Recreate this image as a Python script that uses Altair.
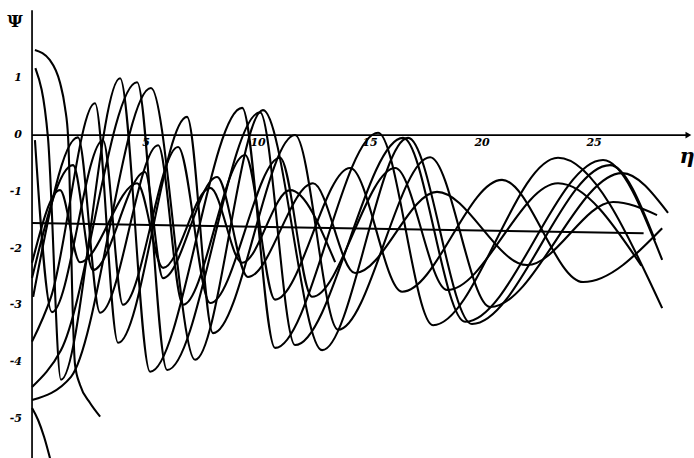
import altair as alt
import pandas as pd

# Plot window in data units (eta across, psi up)
ETA_RANGE = [-1.43, 29.55]
PSI_RANGE = [-5.69, 2.38]

# Integral curves psi(eta); each list holds points
c15_eta = [0.13, 0.80, 1.25, 1.47, 1.61, 1.70, 1.79, 1.92, 2.14, 2.59, 3.04]
c15_psi = [1.50, 1.32, 0.92, 0.49, -0.04, -1.14, -2.73, -4.05, -4.40, -4.72, -4.96]

c12_eta = [0.15, 0.71, 1.29, 3.93, 5.27, 9.38, 10.85, 15.45, 17.90, 23.48, 28.13]
c12_psi = [1.18, -0.04, -4.31, 1.00, -4.17, 0.48, -3.75, 0.04, -3.35, -0.40, -3.05]

c443_eta = [0.0, 1.29, 4.69, 6.03, 10.18, 11.74, 16.56, 19.33, 25.49, 28.13]
c443_psi = [-4.44, -3.79, 0.93, -4.14, 0.40, -3.70, -0.05, -3.29, -0.44, -2.20]

c467_eta = [0.0, 1.74, 5.31, 7.28, 10.31, 12.95, 16.79, 19.64, 25.80, 27.81]
c467_psi = [-4.67, -4.26, 0.83, -3.96, 0.44, -3.79, -0.05, -3.33, -0.53, -1.85]

c37_eta = [0.0, 0.85, 2.81, 3.84, 6.92, 8.08, 11.74, 13.66, 17.77, 20.45, 26.34, 28.39]
c37_psi = [-3.64, -2.85, 0.56, -3.66, 0.32, -3.49, 0.0, -3.43, -0.39, -3.03, -0.67, -1.37]

c285_eta = [0.05, 2.05, 3.04, 5.63, 6.74, 9.51, 10.85, 14.20, 16.52, 20.98, 24.60, 28.13]
c285_psi = [-2.85, -0.04, -3.13, -0.18, -2.99, -0.35, -2.90, -0.58, -2.76, -0.79, -2.59, -1.64]

c0_eta = [0.13, 0.89, 3.17, 4.06, 6.52, 7.95, 11.07, 12.50, 16.21, 18.53, 23.48, 27.20]
c0_psi = [-0.09, -3.12, -0.09, -2.99, -0.21, -2.96, -0.40, -2.85, -0.58, -2.73, -0.85, -2.30]

c25_eta = [0.0, 1.83, 2.72, 5.04, 5.85, 8.26, 9.64, 12.54, 14.42, 18.08, 22.10, 25.94, 27.90]
c25_psi = [-2.52, -0.53, -2.38, -0.65, -2.52, -0.74, -2.50, -0.85, -2.43, -1.00, -2.29, -1.18, -1.41]

c225_eta = [0.0, 1.25, 2.14, 4.69, 5.85, 7.95, 9.38, 11.52, 13.53]
c225_psi = [-2.25, -0.97, -2.24, -0.85, -2.34, -0.93, -2.25, -0.97, -2.24]

c485_eta = [0.0, 0.27, 0.54, 0.80, 0.94]
c485_psi = [-4.81, -5.02, -5.32, -5.69, -5.90]

# Slowly drifting mean level
mean_eta = [0.0, 27.3]
mean_psi = [-1.55, -1.73]

# Axes and tick labels
x_axis_end = 29.3
y_axis_top = 2.2
y_ticks = [1, 0, -1, -2, -3, -4, -5]
x_ticks = [5, 10, 15, 20, 25]

curves = {
    "c15": (c15_eta, c15_psi),
    "c12": (c12_eta, c12_psi),
    "c443": (c443_eta, c443_psi),
    "c467": (c467_eta, c467_psi),
    "c37": (c37_eta, c37_psi),
    "c285": (c285_eta, c285_psi),
    "c0": (c0_eta, c0_psi),
    "c25": (c25_eta, c25_psi),
    "c225": (c225_eta, c225_psi),
    "c485": (c485_eta, c485_psi),
    "mean": (mean_eta, mean_psi),
}

rows = []
for name, (es, ps) in curves.items():
    for i, (e, p) in enumerate(zip(es, ps)):
        rows.append({"curve": name, "eta": e, "psi": p, "k": i})
df = pd.DataFrame(rows)

xs = alt.Scale(domain=ETA_RANGE, nice=False, zero=False)
ys = alt.Scale(domain=PSI_RANGE, nice=False, zero=False)

lines = alt.Chart(df).mark_line(
    color="black", strokeWidth=2.1, interpolate="monotone", clip=True
).encode(
    x=alt.X("eta:Q", scale=xs, axis=None),
    y=alt.Y("psi:Q", scale=ys, axis=None),
    detail="curve:N",
    order="k:Q",
)

axes_df = pd.DataFrame([
    {"x": 0.0, "x2": x_axis_end, "y": 0.0, "y2": 0.0},
    {"x": 0.0, "x2": 0.0, "y": PSI_RANGE[0], "y2": y_axis_top},
])
axes = alt.Chart(axes_df).mark_rule(color="black", strokeWidth=1.7).encode(
    x=alt.X("x:Q", scale=xs, axis=None),
    x2="x2:Q",
    y=alt.Y("y:Q", scale=ys, axis=None),
    y2="y2:Q",
)

arrow = alt.Chart(pd.DataFrame({"x": [x_axis_end], "y": [0.0]})).mark_point(
    shape="triangle-right", filled=True, color="black", size=45, opacity=1
).encode(
    x=alt.X("x:Q", scale=xs, axis=None),
    y=alt.Y("y:Q", scale=ys, axis=None),
)

font = "DejaVu Serif"

ylab = alt.Chart(pd.DataFrame({"v": y_ticks, "t": [str(v) for v in y_ticks]})).mark_text(
    font=font, fontSize=11, fontStyle="italic", fontWeight="bold", align="right",
    baseline="middle", dx=-10, color="black"
).encode(
    x=alt.value(32),
    y=alt.Y("v:Q", scale=ys, axis=None),
    text="t:N",
)

xlab = alt.Chart(pd.DataFrame({"v": x_ticks, "t": [str(v) for v in x_ticks]})).mark_text(
    font=font, fontSize=11, fontStyle="italic", fontWeight="bold", align="center",
    baseline="top", dx=2, dy=2, color="black"
).encode(
    x=alt.X("v:Q", scale=xs, axis=None),
    y=alt.value(135),
    text="t:N",
)

titles_df = pd.DataFrame([
    {"x": -0.76, "y": 1.99, "t": "Ψ", "s": "psi"},
    {"x": 29.24, "y": -0.39, "t": "η", "s": "eta"},
])
psi_title = alt.Chart(titles_df[titles_df.s == "psi"]).mark_text(
    font=font, fontSize=17, fontWeight="bold", color="black"
).encode(
    x=alt.X("x:Q", scale=xs, axis=None), y=alt.Y("y:Q", scale=ys, axis=None), text="t:N"
)
eta_title = alt.Chart(titles_df[titles_df.s == "eta"]).mark_text(
    font=font, fontSize=21, fontStyle="italic", fontWeight="bold", color="black"
).encode(
    x=alt.X("x:Q", scale=xs, axis=None), y=alt.Y("y:Q", scale=ys, axis=None), text="t:N"
)

chart = alt.layer(axes, arrow, lines, ylab, xlab, psi_title, eta_title).properties(
    width=694, height=458, padding=0, autosize="none", background="white"
).configure_view(strokeWidth=0)

chart.save("out.html", embed_options={"renderer": "svg", "actions": False})
